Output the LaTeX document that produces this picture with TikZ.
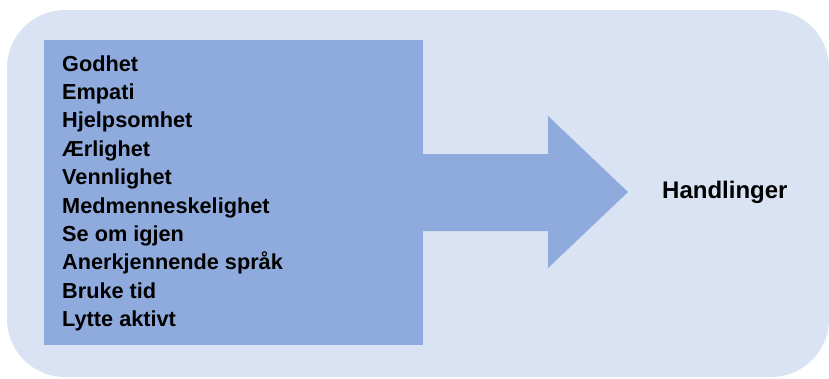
\documentclass[tikz,border=0pt]{standalone}
\usepackage{fontspec}
\setmainfont{Liberation Sans}
\usepackage{tikz}
\definecolor{bakgrunn}{HTML}{DAE3F3}
\definecolor{boks}{HTML}{8FAADC}
\tikzstyle{ramme} = [fill=bakgrunn, rounded corners=58pt]
\tikzstyle{verdiboks} = [fill=boks, inner sep=0pt, anchor=north west]
\tikzstyle{verdi} = [anchor=base west, inner sep=0pt, font={\bfseries\fontsize{21.7}{26}\selectfont}]
\tikzstyle{maal} = [anchor=base west, inner sep=0pt, font={\bfseries\fontsize{24}{28}\selectfont}]

\begin{document}
\begin{tikzpicture}[x=1pt,y=-1pt]
  \useasboundingbox (0,0) rectangle (829,378);
  \fill[ramme] (7,10) rectangle (829,377);
  \node[verdiboks,minimum width=379pt,minimum height=305pt](boks) at (44,40){};
  \fill[boks] ([xshift=-3pt]boks.east |- 0,154) -- (548,154) -- (548,116) -- (628,192)
    -- (548,268) -- (548,231) -- ([xshift=-3pt]boks.east |- 0,231) -- cycle;
  \foreach \tekst [count=\i] in {Godhet,Empati,Hjelpsomhet,Ærlighet,Vennlighet,
      Medmenneskelighet,Se om igjen,Anerkjennende språk,Bruke tid,Lytte aktivt}
    \node[verdi](v\i) at (62,71+28.4*\i-28.4){\tekst};
  \node[maal](handling) at (662,198){Handlinger};
\end{tikzpicture}
\end{document}
